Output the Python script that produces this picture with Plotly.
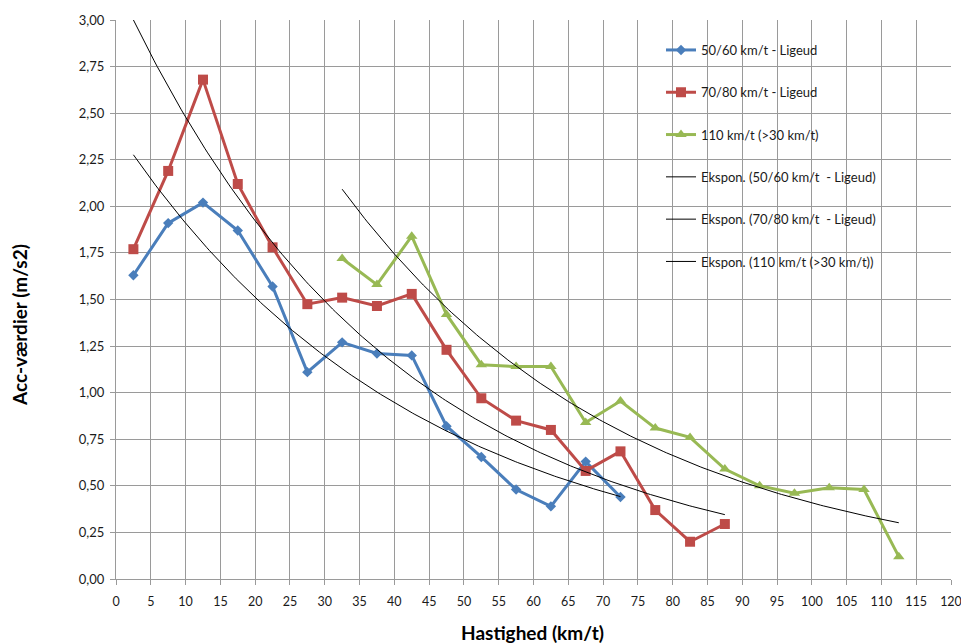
import numpy as np
import plotly.graph_objects as go

# ---- data ----
x_blue = [2.5, 7.5, 12.5, 17.5, 22.5, 27.5, 32.5, 37.5, 42.5, 47.5, 52.5, 57.5, 62.5, 67.5, 72.5]
y_blue = [1.63, 1.91, 2.02, 1.87, 1.57, 1.11, 1.27, 1.21, 1.20, 0.82, 0.655, 0.48, 0.39, 0.63, 0.44]

x_red = [2.5, 7.5, 12.5, 17.5, 22.5, 27.5, 32.5, 37.5, 42.5, 47.5, 52.5, 57.5, 62.5, 67.5, 72.5, 77.5, 82.5, 87.5]
y_red = [1.77, 2.19, 2.68, 2.12, 1.78, 1.475, 1.51, 1.465, 1.53, 1.23, 0.97, 0.85, 0.80, 0.58, 0.685, 0.37, 0.20, 0.295]

x_green = [32.5, 37.5, 42.5, 47.5, 52.5, 57.5, 62.5, 67.5, 72.5, 77.5, 82.5, 87.5, 92.5, 97.5, 102.5, 107.5, 112.5]
y_green = [1.72, 1.58, 1.84, 1.42, 1.15, 1.14, 1.14, 0.84, 0.955, 0.81, 0.76, 0.59, 0.50, 0.46, 0.49, 0.48, 0.12]

names = ["50/60 km/t - Ligeud", "70/80 km/t - Ligeud", "110 km/t (>30 km/t)"]
trend_names = ["Ekspon. (50/60 km/t  - Ligeud)", "Ekspon. (70/80 km/t  - Ligeud)", "Ekspon. (110 km/t (>30 km/t))"]
x_ticks = list(range(0, 125, 5))
y_ticks = [0, 0.25, 0.5, 0.75, 1.0, 1.25, 1.5, 1.75, 2.0, 2.25, 2.5, 2.75, 3.0]
x_title = "Hastighed (km/t)"
y_title = "Acc-værdier (m/s2)"

colors = ["#4a7ebb", "#be4b48", "#98b954"]
symbols = ["diamond", "square", "triangle-up"]
msizes = [8, 10, 10]

series = [(x_blue, y_blue), (x_red, y_red), (x_green, y_green)]

fig = go.Figure()
for i, (xs, ys) in enumerate(series):
    fig.add_trace(go.Scatter(
        x=xs, y=ys, name=names[i], mode="lines+markers",
        line=dict(color=colors[i], width=3),
        marker=dict(symbol=symbols[i], size=msizes[i], color=colors[i]),
        legendgroup=f"g{i}",
    ))

# exponential trendlines (Excel style: least squares on ln(y))
for i, (xs, ys) in enumerate(series):
    xs_a = np.array(xs)
    b, lna = np.polyfit(xs_a, np.log(np.array(ys)), 1)
    xx = np.linspace(xs_a.min(), xs_a.max(), 200)
    fig.add_trace(go.Scatter(
        x=xx, y=np.exp(lna) * np.exp(b * xx), name=trend_names[i], mode="lines",
        line=dict(color="black", width=1), legendgroup=f"t{i}",
    ))

# layout geometry in page pixels (body margin removed below)
OFF = 0
L, T, PW, PH = 116, 20, 835, 559
W, H = 961, 644

def px(xpage):
    return (xpage - OFF - L) / PW

def py(ypage):
    return 1 - (ypage - OFF - T) / PH

# white panel behind legend covering gridlines
fig.add_shape(type="rect", xref="paper", yref="paper",
              x0=px(615), x1=px(936), y0=py(282), y1=1.0,
              fillcolor="white", line=dict(width=0), layer="between")

fig.add_annotation(text=f"<b>{x_title}</b>", xref="paper", yref="paper",
                   x=px(532), y=py(632), xanchor="center", yanchor="middle",
                   showarrow=False, font=dict(size=19, color="black"))
fig.add_annotation(text=f"<b>{y_title}</b>", xref="paper", yref="paper",
                   x=px(19), y=py(325), xanchor="center", yanchor="middle",
                   textangle=-90, showarrow=False, font=dict(size=19, color="black"))

grid = "#9a9a9a"
fig.update_layout(
    width=W, height=H,
    margin=dict(l=L, r=W - L - PW, t=T, b=H - T - PH, autoexpand=False),
    paper_bgcolor="white", plot_bgcolor="white",
    separators=",.",
    font=dict(family="Lato, Open Sans, sans-serif", size=13, color="#1a1a1a"),
    showlegend=True,
    legend=dict(x=px(661), y=py(35), xanchor="left", yanchor="top",
                bgcolor="rgba(0,0,0,0)", tracegroupgap=22.4,
                font=dict(size=13), itemwidth=30),
    xaxis=dict(range=[0, 120], tickvals=x_ticks, showgrid=True, gridcolor=grid, gridwidth=1,
               showline=True, linecolor=grid, ticks="outside", tickcolor=grid, ticklen=5,
               zeroline=False, tickfont=dict(size=12.5), ticklabelstandoff=6, automargin=False,
               ticklabeloverflow="allow"),
    yaxis=dict(range=[0, 3.0], tickvals=y_ticks, tickformat=".2f", showgrid=True, gridcolor=grid,
               gridwidth=1, showline=True, linecolor=grid, ticks="outside", tickcolor=grid, ticklen=5,
               zeroline=False, tickfont=dict(size=13), ticklabelstandoff=3, automargin=False),
)

fig.write_html("out.html", config={"displayModeBar": False},
               post_script="document.body.style.margin='0';document.body.style.overflow='hidden';")
